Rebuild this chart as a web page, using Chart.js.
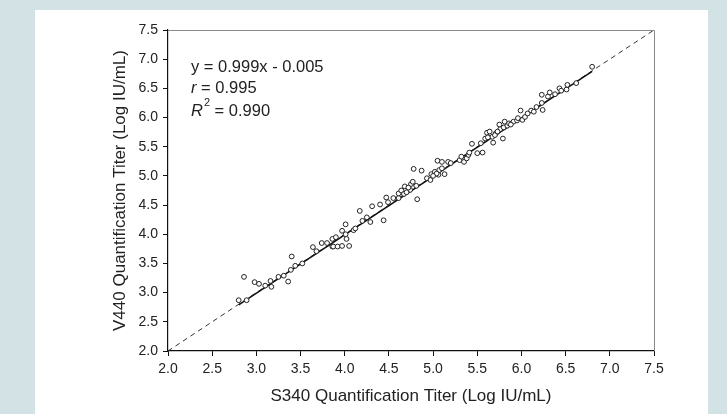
<!DOCTYPE html>
<html>
<head>
<meta charset="utf-8">
<script src="https://cdn.jsdelivr.net/npm/chart.js@4.4.1/dist/chart.umd.min.js"></script>
<style>
  html, body { margin: 0; padding: 0; background: rgb(211,226,229); width: 727px; height: 414px; overflow: hidden; }
  #panel { position: absolute; left: 35px; top: 10px; width: 673px; height: 404px; background: #ffffff; }
  #c { display: block; }
</style>
</head>
<body>
<div id="panel"><canvas id="c" width="673" height="404"></canvas></div>
<script>
// ---- data ----
const xTicks = [2.0, 2.5, 3.0, 3.5, 4.0, 4.5, 5.0, 5.5, 6.0, 6.5, 7.0, 7.5];
const yTicks = [2.0, 2.5, 3.0, 3.5, 4.0, 4.5, 5.0, 5.5, 6.0, 6.5, 7.0, 7.5];

const s340 = [
  2.80, 2.89, 2.86, 2.98, 3.03, 3.10, 3.16, 3.17, 3.25, 3.31, 3.36, 3.39, 3.40, 3.44, 3.52, 3.64, 3.68, 3.74, 3.80, 3.86, 3.86,
  3.90, 3.87, 3.92, 3.97, 4.05, 3.97, 4.01, 4.01, 4.02, 4.10, 4.17, 4.20, 4.25, 4.29, 4.31, 4.40, 4.44, 4.47, 4.49, 4.61, 4.61,
  4.64, 4.68, 4.67, 4.74, 4.75, 4.77, 4.81, 4.82, 4.78, 4.87, 4.93, 4.97, 4.98, 5.02, 5.06, 5.05,
  5.07, 5.04, 5.10, 5.13, 5.10, 5.17, 5.30, 5.32, 5.35, 5.38, 5.40, 5.41, 5.50, 5.56, 5.44, 5.54, 5.59, 5.61, 5.64, 5.67, 5.68,
  5.71, 5.75, 5.76, 5.79, 5.80, 5.81, 5.84, 5.86, 5.91, 5.95, 5.96, 5.99, 6.01, 6.04, 6.07, 6.11, 6.17, 6.23, 6.23, 6.24,
  6.30, 6.32, 6.43, 6.45, 6.51, 6.52, 6.62, 6.80,
  4.70, 4.72, 4.55, 5.00, 5.20, 5.62, 5.70, 5.73, 5.88, 6.14, 6.38, 4.12
];
const v440 = [
  2.87, 2.87, 3.27, 3.18, 3.15, 3.12, 3.20, 3.10, 3.27, 3.29, 3.19, 3.39, 3.62, 3.46, 3.50, 3.78, 3.71, 3.85, 3.85, 3.92, 3.79,
  3.95, 3.79, 3.79, 3.80, 3.80, 4.06, 4.17, 4.00, 3.92, 4.07, 4.40, 4.23, 4.29, 4.21, 4.48, 4.51, 4.24, 4.63, 4.55, 4.62, 4.70,
  4.75, 4.82, 4.69, 4.76, 4.86, 4.90, 4.83, 4.60, 5.12, 5.09, 4.96, 4.93, 5.03, 5.07, 5.02, 5.26,
  5.10, 5.04, 5.13, 5.03, 5.24, 5.24, 5.27, 5.33, 5.24, 5.30, 5.36, 5.40, 5.39, 5.40, 5.55, 5.56, 5.64, 5.74, 5.76, 5.67, 5.57,
  5.73, 5.88, 5.80, 5.64, 5.83, 5.93, 5.86, 5.90, 5.93, 5.95, 5.99, 6.12, 5.96, 6.01, 6.07, 6.12, 6.18, 6.25, 6.39, 6.13,
  6.36, 6.43, 6.50, 6.46, 6.48, 6.56, 6.59, 6.87,
  4.72, 4.80, 4.62, 5.00, 5.22, 5.66, 5.70, 5.76, 5.88, 6.10, 6.40, 4.10
];

// regression line endpoints and identity line endpoints (as drawn)
const fitX = [2.80, 6.80];
const fitY = [2.79, 6.79];
const idX = [2.0, 7.5];
const idY = [2.0, 7.5];

const statLines = ["y = 0.999x - 0.005", "r = 0.995", "R2 = 0.990"];
const xTitle = "S340 Quantification Titer (Log IU/mL)";
const yTitle = "V440 Quantification Titer (Log IU/mL)";

// ---- build chart ----
const pts = s340.map((x, i) => ({ x: x, y: v440[i] }));
const fitPts = fitX.map((x, i) => ({ x: x, y: fitY[i] }));
const idPts = idX.map((x, i) => ({ x: x, y: idY[i] }));

const TXT = '#222222';
const FONT = "'Liberation Sans', Arial, sans-serif";

const framePlugin = {
  id: 'frame',
  afterDatasetsDraw(chart) {
    const { ctx, chartArea: a } = chart;
    ctx.save();
    ctx.strokeStyle = '#8a8a8a';
    ctx.lineWidth = 1;
    ctx.beginPath();
    ctx.moveTo(a.left, a.top + 0.5);
    ctx.lineTo(a.right + 0.5, a.top + 0.5);
    ctx.lineTo(a.right + 0.5, a.bottom);
    ctx.stroke();
    ctx.restore();
  }
};

const statsPlugin = {
  id: 'stats',
  afterDraw(chart) {
    const { ctx } = chart;
    ctx.save();
    ctx.fillStyle = TXT;
    ctx.textBaseline = 'alphabetic';
    ctx.textAlign = 'left';
    const x0 = 156;
    const F = 16.5;
    ctx.font = F + "px " + FONT;
    ctx.fillText(statLines[0], x0, 62);
    // r = 0.995
    ctx.font = "italic " + F + "px " + FONT;
    ctx.fillText("r", x0, 83);
    let w = ctx.measureText("r").width;
    ctx.font = F + "px " + FONT;
    ctx.fillText(" = 0.995", x0 + w, 83);
    // R^2 = 0.990
    ctx.font = "italic " + F + "px " + FONT;
    ctx.fillText("R", x0, 106);
    w = ctx.measureText("R").width;
    ctx.font = "11px " + FONT;
    ctx.fillText("2", x0 + w + 1, 96);
    const w2 = ctx.measureText("2").width;
    ctx.font = F + "px " + FONT;
    ctx.fillText(" = 0.990", x0 + w + 1 + w2, 106);
    ctx.restore();
  }
};

new Chart(document.getElementById('c'), {
  type: 'scatter',
  data: {
    datasets: [
      {
        type: 'line', data: idPts, borderColor: '#333333', borderWidth: 1,
        borderDash: [5, 4], pointRadius: 0, fill: false, order: 3
      },
      {
        type: 'line', data: fitPts, borderColor: '#111111', borderWidth: 1.6,
        pointRadius: 0, fill: false, order: 2
      },
      {
        data: pts, pointStyle: 'circle', pointRadius: 2.4, borderWidth: 1,
        borderColor: '#222222', backgroundColor: '#ffffff', order: 1
      }
    ]
  },
  options: {
    responsive: false,
    animation: false,
    events: [],
    layout: { padding: { left: 0, right: 54, top: 20, bottom: 0 } },
    plugins: { legend: { display: false }, tooltip: { enabled: false } },
    scales: {
      x: {
        type: 'linear', min: 2, max: 7.5,
        afterBuildTicks: (s) => { s.ticks = xTicks.map(v => ({ value: v })); },
        afterFit: (s) => { s.height = 63; },
        ticks: { color: TXT, font: { family: FONT, size: 14 }, padding: 5, callback: (v) => v.toFixed(1), maxRotation: 0, autoSkip: false },
        grid: { drawOnChartArea: false, drawTicks: true, tickLength: 5, tickColor: '#111111' },
        border: { display: true, color: '#111111', width: 1.2 },
        title: { display: true, text: xTitle, color: TXT, font: { family: FONT, size: 17 }, padding: { top: 0, bottom: 7 } }
      },
      y: {
        type: 'linear', min: 2, max: 7.5,
        afterBuildTicks: (s) => { s.ticks = yTicks.map(v => ({ value: v })); },
        afterFit: (s) => { s.width = 133; },
        ticks: { color: TXT, font: { family: FONT, size: 14 }, padding: 5, callback: (v) => v.toFixed(1), autoSkip: false },
        grid: { drawOnChartArea: false, drawTicks: true, tickLength: 5, tickColor: '#111111' },
        border: { display: true, color: '#111111', width: 1.2 },
        title: { display: true, text: yTitle, color: TXT, font: { family: FONT, size: 17 }, padding: { top: 75, bottom: 0 } }
      }
    }
  },
  plugins: [framePlugin, statsPlugin]
});
</script>
</body>
</html>
